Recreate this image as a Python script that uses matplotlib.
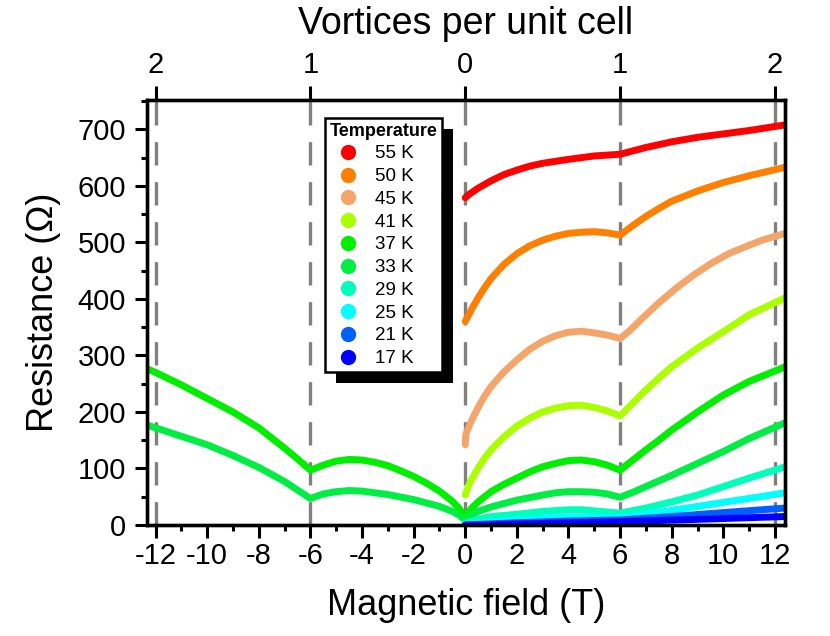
import matplotlib
matplotlib.use("Agg")
import matplotlib.pyplot as plt
from matplotlib.patches import Rectangle
from matplotlib.ticker import MultipleLocator

plt.rcParams['font.family'] = ['Liberation Sans', 'DejaVu Sans']

# ---------------- data ----------------
temps = ["55 K", "50 K", "45 K", "41 K", "37 K", "33 K", "29 K", "25 K", "21 K", "17 K"]
colors = ["#ff0000", "#ff8000", "#f4a66a", "#aaff00", "#00ee00",
          "#00ee44", "#00ffbb", "#00ffff", "#0060ff", "#0000ff"]

# field sweeps (field in T, resistance in Ohm)
b55 = [0, 0.15, 0.5, 1, 1.5, 2, 2.5, 3, 4, 5, 6, 6.5, 7, 8, 9, 10, 11, 12.4]
r55 = [579, 585, 596, 609, 620, 628, 635, 640, 647, 653, 656, 662, 668, 678, 686, 692, 698, 708]
b50 = [0, 0.1, 0.25, 0.5, 0.75, 1, 1.5, 2, 2.5, 3, 3.5, 4, 4.5, 5, 5.5, 6,
       6.5, 7, 7.5, 8, 9, 10, 11, 12.4]
r50 = [360, 369, 382, 402, 420, 436, 461, 480, 494, 504, 511, 516, 518, 519, 517, 513,
       530, 546, 560, 573, 591, 606, 618, 633]
b45 = [0, 0.02, 0.15, 0.3, 0.5, 0.75, 1, 1.5, 2, 2.5, 3, 3.5, 4, 4.5, 5, 5.5, 6,
       6.4, 6.8, 7.5, 8.2, 8.9, 9.5, 10.2, 11, 11.5, 12.4]
r45 = [142, 160, 175, 190, 208, 228, 245, 271, 292, 311, 325, 335, 341, 343, 340, 336, 330,
       345, 363, 393, 420, 444, 462, 480, 495, 504, 516]
b41 = [0, 0.15, 0.3, 0.5, 0.75, 1, 1.5, 2, 2.5, 3, 3.5, 4, 4.5, 5, 5.5, 6,
       6.5, 7, 7.5, 8, 9, 10, 11, 12.4]
r41 = [53, 72, 85, 101, 118, 133, 156, 175, 189, 200, 207, 211, 212, 208, 202, 193,
       216, 239, 260, 280, 313, 342, 372, 402]
b37 = [-12.35, -12, -11, -10, -9, -8, -7, -6.5, -6, -5.5, -5, -4.5, -4, -3.5, -3, -2.5, -2,
       -1.5, -1, -0.5, -0.25, 0,
       0.25, 0.5, 1, 1.5, 2, 2.5, 3, 3.5, 4, 4.5, 5, 5.5, 6, 6.5, 7, 7.5, 8, 9, 10, 11, 12.4]
r37 = [277, 270, 248, 224, 200, 172, 136, 117, 97, 106, 113, 116, 115, 111, 105, 96, 86,
       74, 60, 42, 30, 15,
       30, 41, 59, 72, 83, 94, 103, 109, 114, 115, 112, 106, 97, 115, 133, 150, 168, 200, 230, 254, 280]
b33 = [-12.35, -12, -11, -10, -9, -8, -7, -6.5, -6, -5.5, -5, -4.5, -4, -3, -2, -1.5, -1,
       -0.5, -0.25, 0,
       0.25, 0.5, 1, 1.5, 2, 3, 3.5, 4, 4.5, 5, 5.5, 6, 6.5, 7, 8, 9, 10, 11, 12.4]
r33 = [177, 172, 157, 142, 123, 102, 77, 62, 47, 55, 59, 61, 60, 54, 45, 39, 33,
       24, 18, 9,
       18, 24, 32, 38, 44, 53, 57, 59, 59, 58, 55, 49, 58, 68, 88, 109, 130, 153, 181]
b29 = [0, 0.5, 1, 2, 3, 4, 4.5, 5, 6, 7, 8, 9, 10, 11, 12.4]
r29 = [3, 10, 15, 19, 24, 27, 27, 25, 21, 30, 41, 53, 68, 83, 103]
b25 = [0, 1, 2, 3, 4, 5, 6, 7, 8, 9, 10, 11, 12.4]
r25 = [1, 5, 9, 12, 14, 14, 13, 19, 26, 33, 40, 47, 57]
b21 = [0, 2, 4, 6, 8, 10, 12.4]
r21 = [0, 4, 7, 9, 15, 22, 30]
b17 = [0, 3, 6, 9, 12.4]
r17 = [0, 3, 6, 10, 15]

fields = [b55, b50, b45, b41, b37, b33, b29, b25, b21, b17]
resist = [r55, r50, r45, r41, r37, r33, r29, r25, r21, r17]

vortex_fields = [-12, -6, 0, 6, 12]
vortex_labels = ["2", "1", "0", "1", "2"]
field_ticks = list(range(-12, 13, 2))

# ---------------- figure ----------------
fig = plt.figure(figsize=(8.30, 6.36), dpi=100)
ax = fig.add_axes([147/830, 1 - 525/636, (785-147)/830, (525-100)/636])

for xv in vortex_fields:
    ax.axvline(xv, color="#808080", lw=2.4, dashes=(7, 5), zorder=1)

for b, r, c in zip(fields, resist, colors):
    ax.plot(b, r, color=c, lw=5, solid_capstyle="round", solid_joinstyle="round",
            zorder=2)

ax.set_xlim(-12.33, 12.39)
ax.set_ylim(0, 752)
ax.set_xticks(field_ticks)
ax.set_xticklabels([str(v) for v in field_ticks])
ax.xaxis.set_minor_locator(MultipleLocator(1))
ax.yaxis.set_major_locator(MultipleLocator(100))
ax.yaxis.set_minor_locator(MultipleLocator(50))

for s in ax.spines.values():
    s.set_linewidth(2.4)
ax.tick_params(which="major", direction="out", length=9, width=2.2, labelsize=21, pad=3)
ax.tick_params(which="minor", direction="out", length=4, width=2.2)
ax.tick_params(axis="y", which="major", pad=6)
ax.tick_params(top=False, right=False, which="both")

ax.set_xlabel("Magnetic field (T)", fontsize=26, labelpad=13)
ax.set_ylabel("Resistance (\u03a9)", fontsize=26, labelpad=12)

axt = ax.twiny()
axt.set_xlim(ax.get_xlim())
axt.set_xticks(vortex_fields)
axt.set_xticklabels(vortex_labels)
axt.tick_params(direction="out", length=10, width=2.2, labelsize=21, pad=5)
axt.xaxis.set_minor_locator(plt.NullLocator())
for s in axt.spines.values():
    s.set_linewidth(2.4)
axt.set_xlabel("Vortices per unit cell", fontsize=27, labelpad=12)

# legend with solid black shadow
handles = [plt.Line2D([], [], ls="none", marker="o", ms=10, color=c, mec=c) for c in colors]
leg = ax.legend(handles, temps, loc="upper left",
                bbox_to_anchor=((325-147)/638, 1 - (118-100)/425),
                borderaxespad=0, fontsize=13.5, title="Temperature",
                title_fontproperties={"weight": "bold", "size": 13},
                fancybox=False, edgecolor="black", framealpha=1,
                labelspacing=0.3, handlelength=2.0, handletextpad=0.4,
                borderpad=0.25, alignment="left")
leg.get_frame().set_linewidth(1.8)
leg.set_zorder(6)

fig.canvas.draw()
bb = leg.get_window_extent()
shadow = Rectangle((bb.x0 + 11, bb.y0 - 11), bb.width, bb.height,
                   transform=None, facecolor="black", edgecolor="none", zorder=5)
ax.add_artist(shadow)

fig.savefig("out.png", dpi=100)
